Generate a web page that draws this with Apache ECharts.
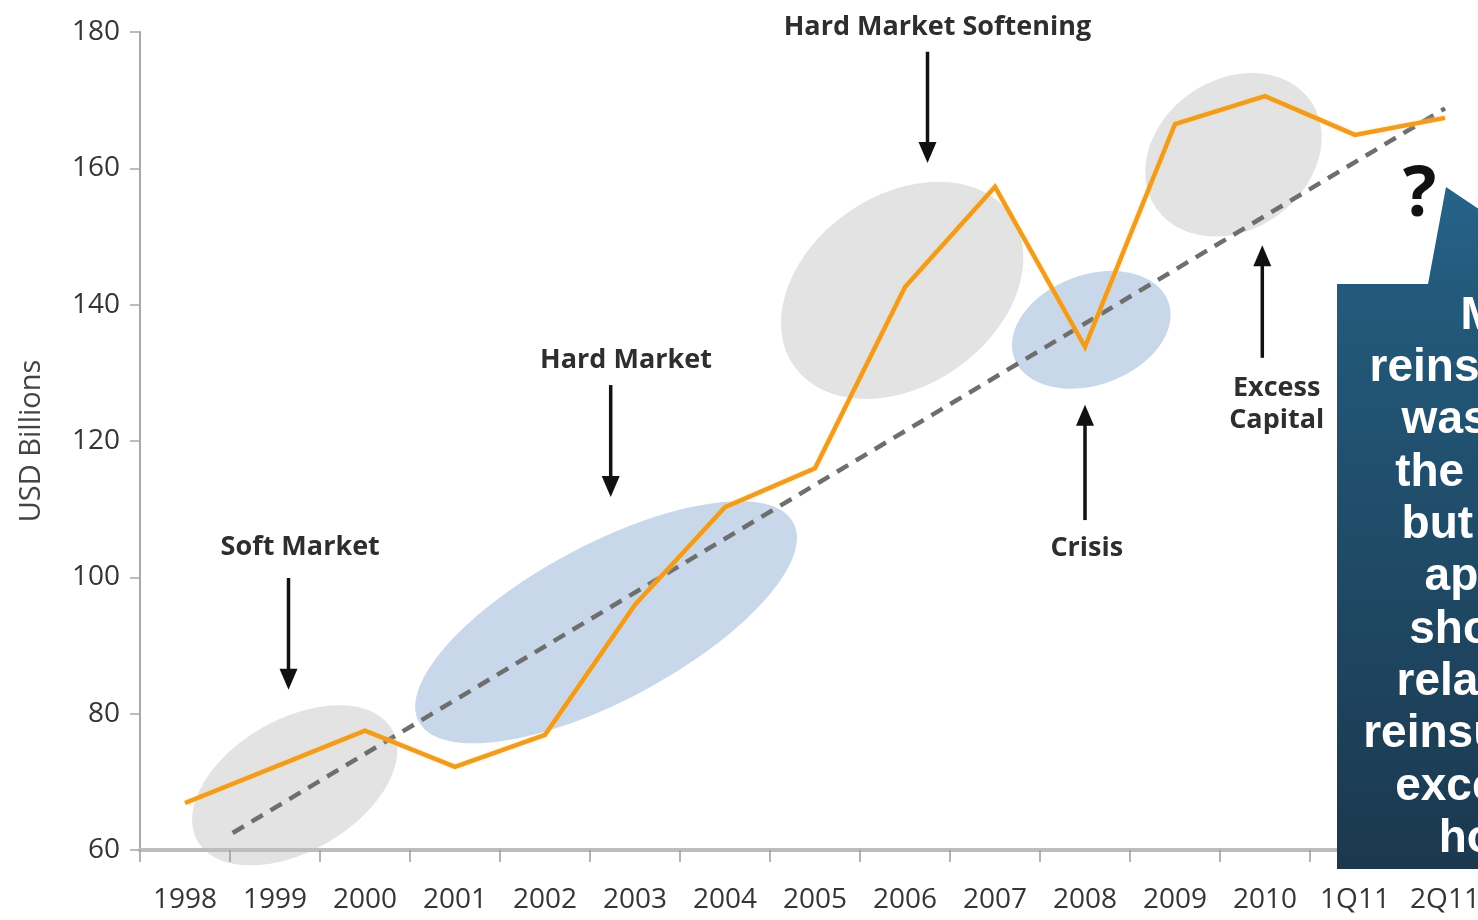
<!DOCTYPE html>
<html>
<head>
<meta charset="utf-8">
<script src="https://cdn.jsdelivr.net/npm/echarts@6/dist/echarts.min.js"></script>
<style>
  html, body { margin: 0; padding: 0; background: #ffffff; overflow: hidden; }
  #chart { width: 1478px; height: 920px; }
</style>
</head>
<body>
<div id="chart"></div>
<script>
// Global reinsurance capital, USD billions
const categories = ['1998', '1999', '2000', '2001', '2002', '2003', '2004', '2005',
                    '2006', '2007', '2008', '2009', '2010', '1Q11', '2Q11'];
const capital = [66.9, 72.2, 77.5, 72.2, 76.9, 96.0, 110.3, 116.0,
                 142.6, 157.3, 133.8, 166.5, 170.6, 164.9, 167.4];

// Long-run trend (category position, value at that position)
const trendPos = [0.53, 14.0];
const trendValues = [62.5, 168.8];

// Value axis range
const yMin = 60, yMax = 180, yStep = 20;

// Shaded phases of the cycle: centre in chart units, radii in px, tilt in degrees
const GRAY = '#e3e3e3', BLUE = '#c8d7ea';
const phases = [
  { x: 1.22,  y: 69.5,  rx: 112, ry: 66, tilt: 30, color: GRAY },
  { x: 4.68,  y: 93.4,  rx: 212, ry: 78, tilt: 28, color: BLUE },
  { x: 7.97,  y: 142.1, rx: 132, ry: 95, tilt: 35, color: GRAY },
  { x: 10.07, y: 136.3, rx: 82,  ry: 55, tilt: 20, color: BLUE },
  { x: 11.65, y: 162.0, rx: 94,  ry: 75, tilt: 35, color: GRAY }
];

// Cycle labels with their arrows (chart units)
const notes = [
  { label: 'Soft Market',           x: 1.28,  y: 104.4, ax: 1.15,  from: 99.9,  to: 83.5 },
  { label: 'Hard Market',           x: 4.90,  y: 131.9, ax: 4.73,  from: 128.2, to: 111.8 },
  { label: 'Hard Market Softening', x: 8.36,  y: 180.7, ax: 8.25,  from: 177.1, to: 160.8 },
  { label: 'Crisis',                x: 10.02, y: 104.3, ax: 10.0,  from: 108.4, to: 125.3 },
  { label: 'Excess\nCapital',       x: 12.13, y: 125.4, ax: 11.97, from: 132.2, to: 148.7 },
  { label: '?',                     x: 13.72, y: 155.9, big: true }
];

const calloutLines = ['Mid', 'reinsurance', 'was high', 'the cycle,', 'but there', 'appear',
                      'shows a', 'related to', 'reinsurance,', 'excess of', 'holds'];

const FONT = '"Open Sans", "Noto Sans", sans-serif';

const chart = echarts.init(document.getElementById('chart'), null, { renderer: 'canvas' });

const option = {
  backgroundColor: '#ffffff',
  animation: false,
  grid: { left: 140, top: 32, width: 1350, bottom: 70, containLabel: false, outerBoundsMode: 'none' },
  xAxis: [
    {
      type: 'category',
      data: categories,
      boundaryGap: true,
      z: 3,
      axisLine: { show: true, onZero: false, lineStyle: { color: '#bdbdbd', width: 4 } },
      axisTick: { show: true, length: 12, alignWithLabel: false, lineStyle: { color: '#9a9a9a', width: 1.5 } },
      axisLabel: { fontFamily: FONT, fontSize: 28, color: '#353535', margin: 36, interval: 0 },
      splitLine: { show: false }
    },
    {
      // continuous twin of the category axis for trend, phases and notes
      type: 'value',
      min: -0.5,
      max: categories.length - 0.5,
      show: false,
      axisLine: { onZero: false },
      splitLine: { show: false }
    }
  ],
  yAxis: {
    type: 'value',
    min: yMin,
    max: yMax,
    interval: yStep,
    z: 3,
    name: 'USD Billions',
    nameLocation: 'middle',
    nameRotate: 90,
    nameGap: 94,
    nameTextStyle: { fontFamily: FONT, fontSize: 29, color: '#444444' },
    axisLine: { show: true, onZero: false, lineStyle: { color: '#a8a8a8', width: 2 } },
    axisTick: { show: true, length: 10, lineStyle: { color: '#a8a8a8', width: 1.5 } },
    axisLabel: { fontFamily: FONT, fontSize: 28, color: '#353535', margin: 20 },
    splitLine: { show: false }
  },
  series: [
    {
      name: 'phases',
      type: 'custom',
      coordinateSystem: 'cartesian2d',
      xAxisIndex: 1,
      yAxisIndex: 0,
      z: 1,
      clip: false,
      silent: true,
      data: phases.map(p => [p.x, p.y]),
      renderItem: function (params, api) {
        const p = phases[params.dataIndex];
        const c = api.coord([p.x, p.y]);
        return {
          type: 'ellipse',
          x: c[0],
          y: c[1],
          rotation: p.tilt * Math.PI / 180,
          shape: { cx: 0, cy: 0, rx: p.rx, ry: p.ry },
          style: { fill: p.color }
        };
      }
    },
    {
      name: 'Trend',
      type: 'line',
      xAxisIndex: 1,
      yAxisIndex: 0,
      z: 4,
      symbol: 'none',
      data: trendPos.map((x, i) => [x, trendValues[i]]),
      lineStyle: { color: '#6e6e6e', width: 4.5, type: [13, 9], cap: 'butt' }
    },
    {
      name: 'Reinsurance capital',
      type: 'line',
      xAxisIndex: 0,
      yAxisIndex: 0,
      z: 5,
      symbol: 'none',
      data: capital,
      lineStyle: { color: '#f09c22', width: 4.5, join: 'miter', shadowColor: 'rgba(255,220,120,0.7)', shadowBlur: 3 }
    },
    {
      name: 'notes',
      type: 'custom',
      coordinateSystem: 'cartesian2d',
      xAxisIndex: 1,
      yAxisIndex: 0,
      z: 6,
      clip: false,
      silent: true,
      data: notes.map(n => [n.x, n.y]),
      renderItem: function (params, api) {
        const n = notes[params.dataIndex];
        const t = api.coord([n.x, n.y]);
        const children = [{
          type: 'text',
          style: {
            text: n.label,
            x: t[0],
            y: t[1],
            align: 'center',
            verticalAlign: 'middle',
            font: n.big ? 'bold 70px ' + FONT : 'bold 27px ' + FONT,
            lineHeight: 32,
            fill: n.big ? '#111111' : '#2e2e2e'
          }
        }];
        if (n.from !== undefined) {
          const a = api.coord([n.ax, n.from]);
          const b = api.coord([n.ax, n.to]);
          const dir = b[1] > a[1] ? 1 : -1;
          const head = 21, half = 9;
          children.push({
            type: 'line',
            shape: { x1: a[0], y1: a[1], x2: b[0], y2: b[1] - dir * head * 0.8 },
            style: { stroke: '#111111', lineWidth: 3.5 }
          });
          children.push({
            type: 'polygon',
            shape: { points: [[b[0] - half, b[1] - dir * head], [b[0] + half, b[1] - dir * head], [b[0], b[1]]] },
            style: { fill: '#111111' }
          });
        }
        return { type: 'group', children: children };
      }
    }
  ],
  graphic: [
    {
      type: 'polygon',
      z: 100,
      shape: { points: [[1337, 284], [1428, 284], [1446, 187], [1540, 250], [1540, 869], [1337, 869]] },
      style: {
        fill: {
          type: 'linear', x: 0, y: 0, x2: 0, y2: 1,
          colorStops: [
            { offset: 0, color: '#26638a' },
            { offset: 0.15, color: '#235a7b' },
            { offset: 1, color: '#1b384f' }
          ]
        }
      }
    },
    {
      type: 'text',
      z: 101,
      style: {
        text: calloutLines.join('\n'),
        x: 1500,
        y: 290,
        align: 'center',
        verticalAlign: 'top',
        font: 'bold 46px "Liberation Sans", Arial, sans-serif',
        lineHeight: 52.3,
        fill: '#ffffff'
      }
    }
  ]
};

chart.setOption(option);
</script>
</body>
</html>
